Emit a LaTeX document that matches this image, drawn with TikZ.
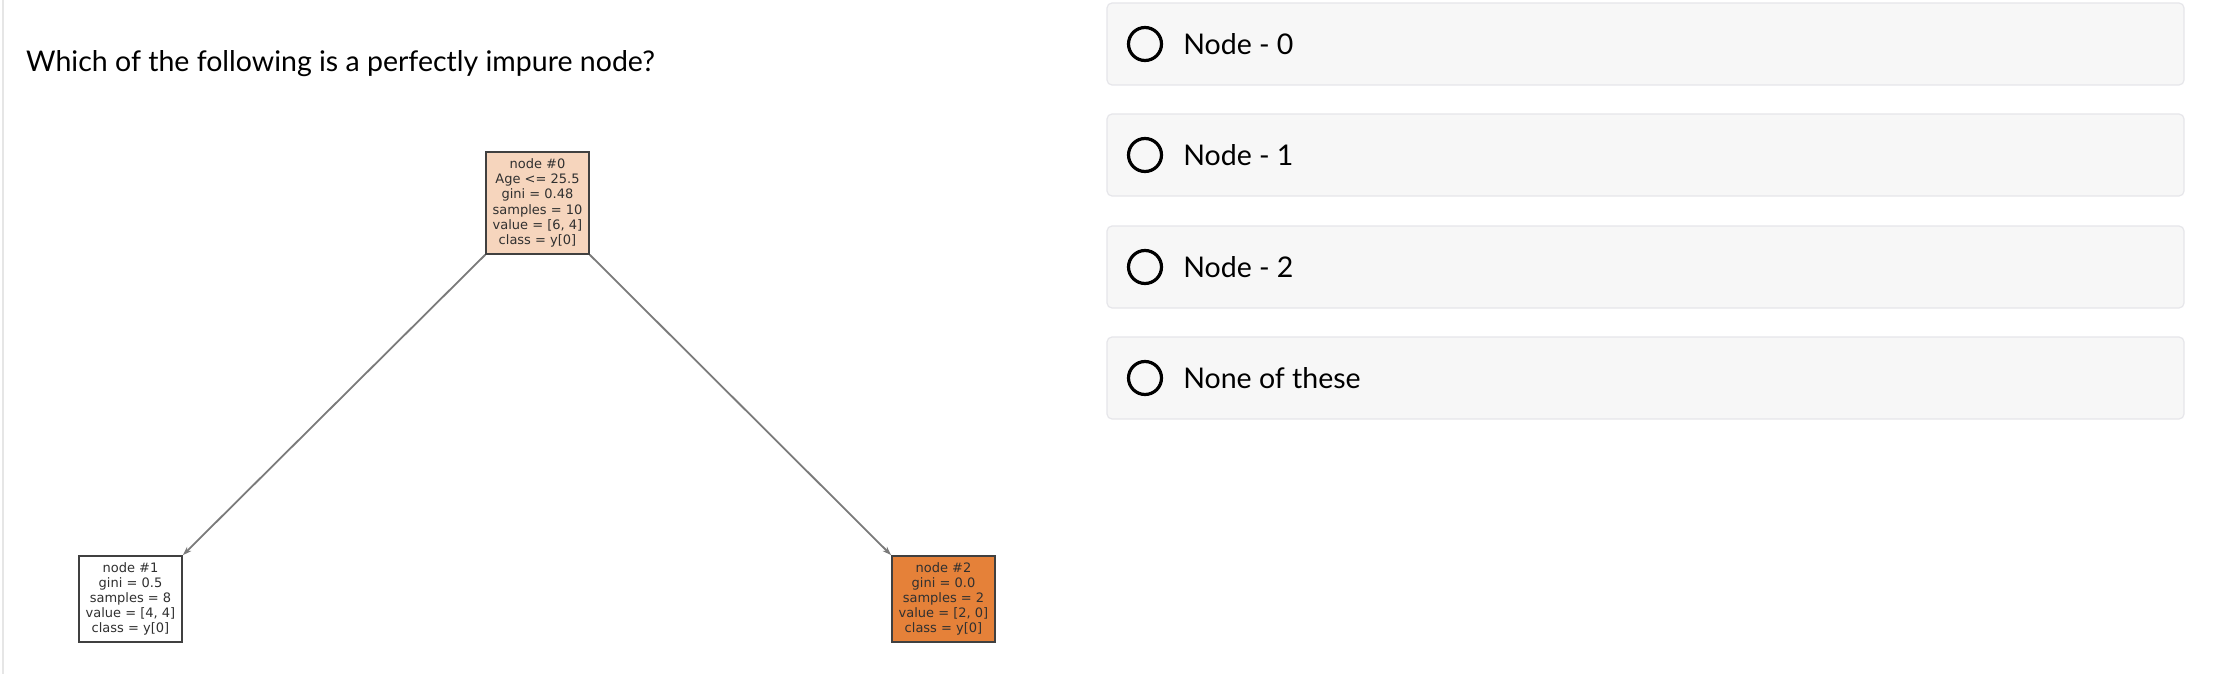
\documentclass[tikz,border=0pt]{standalone}
\usepackage{fontspec}
\setmainfont{Lato}
\newfontfamily\treefont{DejaVu Sans}
\usetikzlibrary{arrows.meta,positioning}
\definecolor{treeline}{HTML}{404040}
\definecolor{treetext}{HTML}{303030}
\definecolor{edgegrey}{HTML}{7A7A7A}
\definecolor{leafpeach}{HTML}{F6D5BD}
\definecolor{leaforange}{HTML}{E58139}
\definecolor{optfill}{HTML}{F7F7F7}
\definecolor{optline}{HTML}{E6E6EA}
\definecolor{sidebar}{HTML}{E6E6E6}

\begin{document}
\begin{tikzpicture}[
  x=1pt, y=-1pt,
  treebox/.style={draw=treeline, line width=1.6pt, align=center, inner sep=0pt, minimum width=103pt, text=treetext, font=\treefont\fontsize{13}{15.2}\selectfont},
  optbox/.style={draw=optline, fill=optfill, line width=1.2pt, rounded corners=5pt, minimum width=1077pt, minimum height=82pt, inner sep=0pt},
  radio/.style={circle, draw=black, line width=3.2pt, minimum size=33pt, inner sep=0pt},
  opttext/.style={anchor=west, inner sep=0pt, font=\fontsize{28.5}{34}\selectfont},
  edge/.style={draw=edgegrey, line width=1.8pt, -{Stealth[length=9pt, width=6pt, fill=treeline]}}
]
\useasboundingbox[fill=white] (0,0) rectangle (2214,674);
\fill[sidebar] (2,0) rectangle (4,674);

% question
\node[opttext] (question) at (26,64) {Which of the following is a perfectly impure node?};

% decision tree
\node[treebox, fill=leafpeach, minimum height=102pt] (n0) at (537.5,203) {node \#0\\Age <= 25.5\\gini = 0.48\\samples = 10\\value = [6, 4]\\class = y[0]};
\node[treebox, fill=white, minimum height=86pt] (n1) at (130.5,599) {node \#1\\gini = 0.5\\samples = 8\\value = [4, 4]\\class = y[0]};
\node[treebox, fill=leaforange, minimum height=86pt] (n2) at (943.5,599) {node \#2\\gini = 0.0\\samples = 2\\value = [2, 0]\\class = y[0]};
\draw[edge] (n0.south west) -- (n1.north east);
\draw[edge] (n0.south east) -- (n2.north west);

% answer options
\node[optbox] (opt0) at (1645.5,44) {};
\node[optbox] (opt1) at (1645.5,155) {};
\node[optbox] (opt2) at (1645.5,267) {};
\node[optbox] (opt3) at (1645.5,378) {};
\node[radio] (r0) at (1145,44) {};
\node[radio] (r1) at (1145,155) {};
\node[radio] (r2) at (1145,267) {};
\node[radio] (r3) at (1145,378) {};
\node[opttext, right=20pt of r0] (t0) {Node - 0};
\node[opttext, right=20pt of r1] (t1) {Node - 1};
\node[opttext, right=20pt of r2] (t2) {Node - 2};
\node[opttext, right=20pt of r3] (t3) {None of these};
\end{tikzpicture}
\end{document}
